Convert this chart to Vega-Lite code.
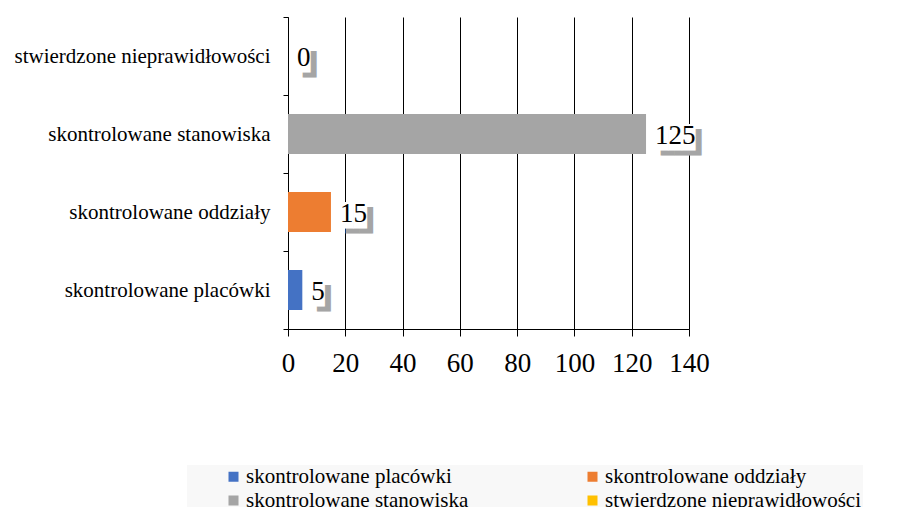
{
  "$schema": "https://vega.github.io/schema/vega-lite/v6.json",
  "width": 401,
  "height": 312,
  "autosize": {"type": "none"},
  "padding": {"left": 288, "top": 17, "right": 210, "bottom": 178},
  "background": "white",
  "config": {
    "view": {"stroke": null},
    "font": "Liberation Serif",
    "locale": {
      "number": {
        "decimal": ".",
        "thousands": ",",
        "grouping": [3],
        "currency": ["", ""],
        "numerals": ["█", "█", "█", "█", "█", "█", "█", "█", "█", "█"]
      }
    }
  },
  "data": {
    "values": [
      {"kategoria": "skontrolowane placówki", "wartosc": 5},
      {"kategoria": "skontrolowane oddziały", "wartosc": 15},
      {"kategoria": "skontrolowane stanowiska", "wartosc": 125},
      {"kategoria": "stwierdzone nieprawidłowości", "wartosc": 0}
    ]
  },
  "encoding": {
    "y": {
      "field": "kategoria",
      "type": "nominal",
      "sort": ["stwierdzone nieprawidłowości", "skontrolowane stanowiska", "skontrolowane oddziały", "skontrolowane placówki"],
      "scale": {"paddingInner": 0, "paddingOuter": 0},
      "axis": {
        "title": null,
        "grid": false,
        "labelFont": "Liberation Serif",
        "labelFontSize": 21,
        "labelColor": "black",
        "labelPadding": 13,
        "labelLimit": 400,
        "tickSize": 5,
        "tickColor": "black",
        "domainColor": "black",
        "tickBand": "extent"
      }
    },
    "x": {
      "field": "wartosc",
      "type": "quantitative",
      "scale": {"domain": [0, 140], "nice": false},
      "axis": {
        "title": null,
        "values": [0, 20, 40, 60, 80, 100, 120, 140],
        "labelExpr": "'' + datum.value",
        "grid": true,
        "gridColor": "black",
        "gridOpacity": 1,
        "domainColor": "black",
        "tickColor": "black",
        "tickSize": 7,
        "labelFont": "Liberation Serif",
        "labelFontSize": 27,
        "labelColor": "black",
        "labelPadding": 14,
        "labelFlush": false,
        "labelOverlap": false
      }
    }
  },
  "layer": [
    {
      "mark": {"type": "bar", "size": 40},
      "encoding": {
        "color": {
          "field": "kategoria",
          "type": "nominal",
          "scale": {
            "domain": ["skontrolowane placówki", "skontrolowane oddziały", "skontrolowane stanowiska", "stwierdzone nieprawidłowości"],
            "range": ["#4472C4", "#ED7D31", "#A5A5A5", "#FFC000"]
          },
          "legend": {
            "orient": "none",
            "legendX": -101,
            "legendY": 448,
            "columns": 2,
            "direction": "horizontal",
            "fillColor": "#F8F8F8",
            "padding": 1,
            "symbolType": "square",
            "symbolSize": 100,
            "symbolStrokeWidth": 0,
            "labelFont": "Liberation Serif",
            "labelFontSize": 21,
            "labelColor": "black",
            "labelLimit": 400,
            "labelOffset": 2,
            "columnPadding": 113,
            "rowPadding": 2,
            "title": " ",
            "titleOrient": "left",
            "titleAngle": 0,
            "titleFontSize": 21,
            "titlePadding": 35
          }
        }
      }
    },
    {
      "mark": {"type": "text", "align": "left", "baseline": "alphabetic", "dx": 14.7, "dy": 15.7, "fontSize": 22.4, "font": "DejaVu Sans Mono", "color": "#A5A5A5"},
      "encoding": {"text": {"field": "wartosc", "type": "quantitative", "format": "d"}}
    },
    {
      "mark": {"type": "text", "align": "left", "baseline": "alphabetic", "dx": 8.7, "dy": 10.7, "fontSize": 22.4, "font": "DejaVu Sans Mono", "color": "white"},
      "encoding": {"text": {"field": "wartosc", "type": "quantitative", "format": "d"}}
    },
    {
      "mark": {"type": "text", "align": "left", "baseline": "middle", "dx": 9, "dy": 2, "fontSize": 27, "font": "Liberation Serif", "color": "black"},
      "encoding": {"text": {"field": "wartosc", "type": "nominal"}}
    }
  ]
}
